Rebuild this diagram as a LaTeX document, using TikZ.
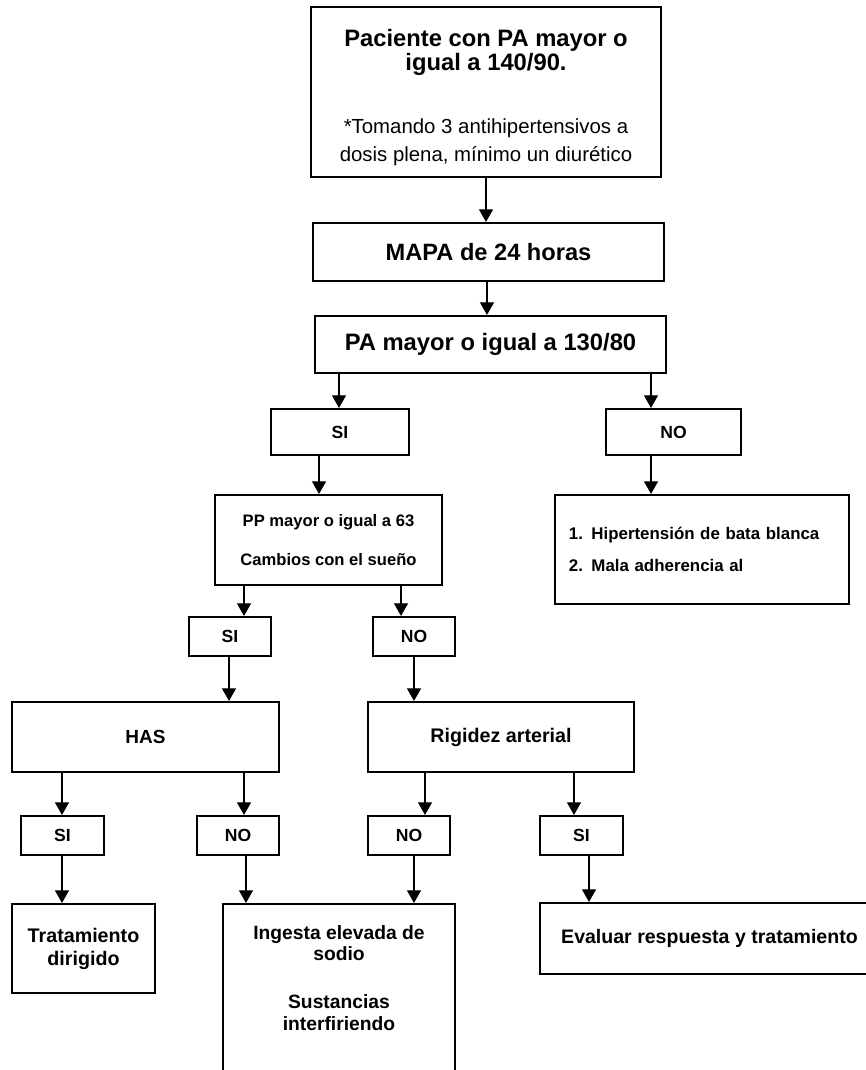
\documentclass[tikz,border=0pt]{standalone}
\usepackage{fontspec}
\setmainfont{Liberation Sans}
\usetikzlibrary{arrows.meta}

\begin{document}
\begin{tikzpicture}[
  x=0.025cm, y=-0.025cm,
  caja/.style={draw=black, line width=1.5pt, align=center, inner sep=0pt,
               font=\bfseries},
  opcion/.style={caja, minimum height=0.975cm, font=\bfseries\fontsize{12.5}{15}\selectfont},
  flecha/.style={draw=black, line width=0.9pt, -{Triangle[length=9pt,width=10pt]}}
]
\useasboundingbox (0,0) rectangle (866,1070);

\node[caja, minimum width=8.75cm, minimum height=4.25cm, font=\bfseries\fontsize{16.9}{17}\selectfont] (pac) at (486,92)
  {\rule{0pt}{20pt}Paciente con PA mayor o\\
   igual a 140/90.\\[27.8pt]
   {\mdseries\fontsize{14.5}{17}\selectfont *Tomando 3 antihipertensivos a}\\[3pt]
   {\mdseries\fontsize{14.5}{17}\selectfont dosis plena, mínimo un diurético}};
\node[caja, minimum width=8.775cm, minimum height=1.45cm, font=\bfseries\fontsize{16.8}{19}\selectfont] (mapa) at (488.5,252) {MAPA de 24 horas};
\node[caja, minimum width=8.775cm, minimum height=1.425cm, font=\bfseries\fontsize{16.9}{19}\selectfont] (pa) at (490.5,344.5) {PA mayor o igual a 130/80};

\node[opcion, minimum width=3.45cm, minimum height=1.15cm] (si1) at (340,432) {SI};
\node[opcion, minimum width=3.375cm, minimum height=1.15cm] (no1) at (673.5,432) {NO};

\node[caja, minimum width=5.675cm, minimum height=2.25cm, font=\bfseries\fontsize{11.8}{27.7}\selectfont] (pp) at (328.5,540)
  {PP mayor o igual a 63\\ Cambios con el sueño};
\node[caja, minimum width=7.35cm, minimum height=2.725cm, text width=6.65cm, align=left,
      font=\bfseries\fontsize{12}{22.8}\selectfont] (bata) at (702,549.5)
  {1. Hipertensión de bata blanca\\ 2. Mala adherencia al};

\node[opcion, minimum width=2.05cm] (si2) at (230,636.5) {SI};
\node[opcion, minimum width=2.05cm] (no2) at (414,636.5) {NO};

\node[caja, minimum width=6.675cm, minimum height=1.75cm, font=\bfseries\fontsize{13.5}{16}\selectfont] (has) at (145.5,737) {HAS};
\node[caja, minimum width=6.65cm, minimum height=1.75cm, font=\bfseries\fontsize{14}{16}\selectfont] (rig) at (501,737) {Rigidez arterial};

\node[opcion, minimum width=2.075cm] (si3) at (62.5,835.5) {SI};
\node[opcion, minimum width=2.05cm] (no3) at (238,835.5) {NO};
\node[opcion, minimum width=2.05cm] (no4) at (409,835.5) {NO};
\node[opcion, minimum width=2.075cm] (si4) at (581.5,835.5) {SI};

\node[caja, minimum width=3.575cm, minimum height=2.225cm, font=\bfseries\fontsize{14}{16.4}\selectfont] (trat) at (83.5,948.5)
  {Tratamiento\\ dirigido};
\node[caja, minimum width=5.8cm, minimum height=4.4cm, font=\bfseries\fontsize{13.7}{15.6}\selectfont] (ing) at (339,992)
  {Ingesta elevada de\\ sodio\\[18.5pt]
   Sustancias\\ interfiriendo\rule[-20pt]{0pt}{20pt}};
\node[caja, minimum width=8.475cm, minimum height=1.775cm, font=\bfseries\fontsize{13.9}{16}\selectfont] (eva) at (709.5,938.5) {Evaluar respuesta y tratamiento};

% flechas
\draw[flecha] (486,0 |- pac.south) -- (486,0 |- mapa.north);
\draw[flecha] (487,0 |- mapa.south) -- (487,0 |- pa.north);
\draw[flecha] (339,0 |- pa.south) -- (339,0 |- si1.north);
\draw[flecha] (651,0 |- pa.south) -- (651,0 |- no1.north);
\draw[flecha] (319,0 |- si1.south) -- (319,0 |- pp.north);
\draw[flecha] (651,0 |- no1.south) -- (651,0 |- bata.north);
\draw[flecha] (244,0 |- pp.south) -- (244,0 |- si2.north);
\draw[flecha] (401,0 |- pp.south) -- (401,0 |- no2.north);
\draw[flecha] (229,0 |- si2.south) -- (229,0 |- has.north);
\draw[flecha] (414,0 |- no2.south) -- (414,0 |- rig.north);
\draw[flecha] (62,0 |- has.south) -- (62,0 |- si3.north);
\draw[flecha] (244,0 |- has.south) -- (244,0 |- no3.north);
\draw[flecha] (425,0 |- rig.south) -- (425,0 |- no4.north);
\draw[flecha] (574,0 |- rig.south) -- (574,0 |- si4.north);
\draw[flecha] (62,0 |- si3.south) -- (62,0 |- trat.north);
\draw[flecha] (246,0 |- no3.south) -- (246,0 |- ing.north);
\draw[flecha] (414,0 |- no4.south) -- (414,0 |- ing.north);
\draw[flecha] (589,0 |- si4.south) -- (589,0 |- eva.north);

\end{tikzpicture}
\end{document}
